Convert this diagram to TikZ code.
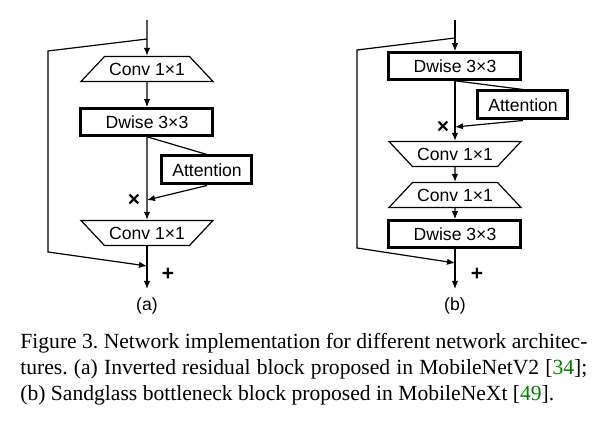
\documentclass[tikz,border=0pt]{standalone}
\usepackage{fontspec}
\setmainfont{Liberation Serif}
\newfontfamily\blockfont{Liberation Sans}
\usetikzlibrary{arrows.meta,shapes.geometric}
\definecolor{citegreen}{rgb}{0,0.5,0}

\begin{document}
\begin{tikzpicture}[x=0.5pt,y=-0.5pt,
  >={Latex[length=4pt,width=3.2pt]},
  every node/.style={font=\blockfont\fontsize{8.8}{10}\selectfont},
  wire/.style={line width=0.6pt},
  dwbox/.style={draw,line width=1.5pt,minimum width=66pt,minimum height=13.3pt,inner sep=1pt},
  attbox/.style={draw,line width=1.5pt,minimum width=45pt,minimum height=14pt,inner sep=1pt},
  convup/.style={draw,line width=0.6pt,trapezium,trapezium angle=35,trapezium stretches body=true,minimum width=66pt,minimum height=12.5pt,inner sep=1pt},
  convdown/.style={convup,shape border rotate=180},
  opsign/.style={font=\blockfont\bfseries\fontsize{10.5}{12}\selectfont},
  captext/.style={anchor=base west,font=\rmfamily\fontsize{10.8}{13}\selectfont,inner sep=0pt}]
\useasboundingbox (0,0) rectangle (602,426);
% (a) inverted residual block
\coordinate (inA) at (147,20);
\coordinate (splitA) at (147,39);
\coordinate (skipA1) at (48,51);
\coordinate (skipA2) at (48,252);
\node[convup] (convA1) at (147,69) {Conv 1×1};
\node[dwbox] (dwA) at (147,122) {Dwise 3×3};
\node[attbox] (attA) at (207,170) {Attention};
\coordinate (mulA) at (147,200);
\node[convdown] (convA2) at (147,233) {Conv 1×1};
\coordinate (addA) at (147,266);
\coordinate (outA) at (147,289);
\draw[wire,->] (inA) -- (convA1);
\draw[wire,->] (convA1) -- (dwA);
\draw[wire,->] (dwA) -- (convA2);
\draw[wire] (dwA.south) -- (attA.north);
\draw[wire,->] (attA.south) -- (mulA);
\draw[wire,->] (splitA) -- (skipA1) -- (skipA2) -- (addA);
\draw[wire,->] (convA2) -- (outA);
\node[opsign] (timesA) at (134,200) {×};
\node[opsign] (plusA) at (168,274) {+};
\node (labA) at (147,306) {(a)};
% (b) sandglass block
\coordinate (inB) at (455,20);
\coordinate (splitB) at (455,38);
\coordinate (skipB1) at (357,50);
\coordinate (skipB2) at (357,248);
\node[dwbox] (dwB1) at (455,66) {Dwise 3×3};
\node[attbox] (attB) at (523,105) {Attention};
\coordinate (mulB) at (455,127);
\node[convdown] (convB1) at (455,154) {Conv 1×1};
\node[convup] (convB2) at (455,195) {Conv 1×1};
\node[dwbox] (dwB2) at (455,234) {Dwise 3×3};
\coordinate (addB) at (455,263);
\coordinate (outB) at (455,289);
\draw[wire,->] (inB) -- (dwB1);
\draw[wire,->] (dwB1) -- (convB1);
\draw[wire] (dwB1.south) -- (attB.north);
\draw[wire,->] (attB.south) -- (mulB);
\draw[wire,->] (convB1) -- (convB2);
\draw[wire,->] (convB2) -- (dwB2);
\draw[wire,->] (splitB) -- (skipB1) -- (skipB2) -- (addB);
\draw[wire,->] (dwB2) -- (outB);
\node[opsign] (timesB) at (443,127) {×};
\node[opsign] (plusB) at (477,274) {+};
\node (labB) at (455,306) {(b)};
% caption
\node[captext] (cap1) at (20,349) {\frenchspacing\makebox[283.5pt][s]{Figure 3. Network implementation for different network architec-}};
\node[captext] (cap2) at (20,375) {\makebox[283.5pt][s]{tures.\ (a) Inverted residual block proposed in MobileNetV2 [\textcolor{citegreen}{34}];}};
\node[captext] (cap3) at (20,401) {(b) Sandglass bottleneck block proposed in MobileNeXt [\textcolor{citegreen}{49}].};
\end{tikzpicture}
\end{document}
